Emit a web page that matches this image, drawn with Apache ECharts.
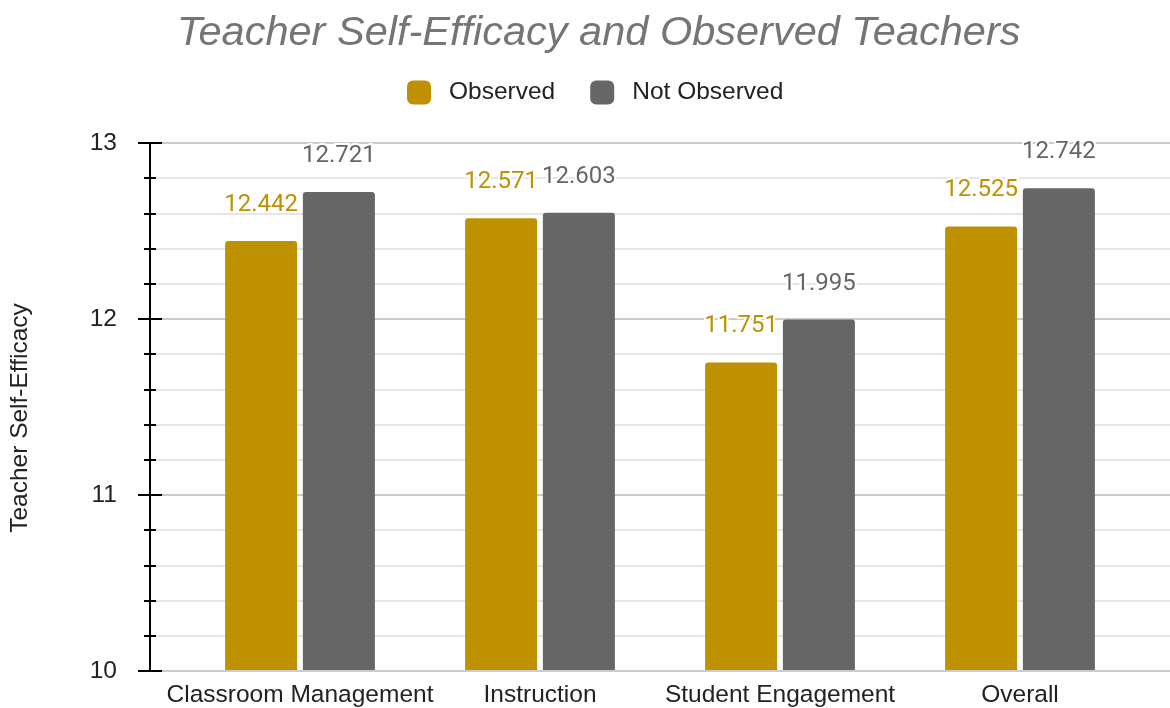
<!DOCTYPE html>
<html>
<head>
<meta charset="utf-8">
<script src="https://cdn.jsdelivr.net/npm/echarts@6/dist/echarts.min.js"></script>
<style>
html,body{margin:0;padding:0;background:#fff;}
#main{width:1170px;height:708px;}
</style>
</head>
<body>
<div id="main"></div>
<script>
// 类别与数值
var categories = ['Classroom Management', 'Instruction', 'Student Engagement', 'Overall'];
var observed = [12.442, 12.571, 11.751, 12.525];
var notObserved = [12.721, 12.603, 11.995, 12.742];
var seriesNames = ['Observed', 'Not Observed'];
var yMin = 10, yMax = 13, yStep = 1;

var FONT = '"Liberation Sans", Arial, sans-serif';
var LABEL_FONT = 'Roboto';
var GOLD = '#bf9000', GREY = '#666666';

function drawChart() {
    var chart = echarts.init(document.getElementById('main'));

    // y轴公共样式（两根轴叠在一起，画两侧刻度）
    var baseY = {
        type: 'value', gridIndex: 1, position: 'left', min: yMin, max: yMax, interval: yStep,
        axisLine: {show: true, lineStyle: {color: '#000', width: 2}},
        minorTick: {show: true, splitNumber: 5, length: 6, lineStyle: {color: '#000', width: 2}}
    };

    var labelStyle = function (color) {
        return {
            show: true, position: 'top', distance: 24,
            fontFamily: LABEL_FONT, fontSize: 24, color: color,
            textBorderColor: '#fff', textBorderWidth: 4,
            formatter: function (p) { return p.value.toFixed(3); }
        };
    };

    var option = {
        animation: false,
        title: {
            text: 'Teacher Self-Efficacy and Observed Teachers',
            left: 177, top: 13, padding: 0,
            textStyle: {fontFamily: FONT, fontSize: 41.5, fontStyle: 'italic', fontWeight: 'normal', color: '#757575'}
        },
        legend: {
            data: seriesNames, left: 407, top: 80, padding: 0,
            itemWidth: 24, itemHeight: 24, itemGap: 35, icon: 'roundRect',
            textStyle: {fontFamily: FONT, fontSize: 24.5, color: '#222', padding: [0, 0, 0, 13]}
        },
        grid: [
            {left: 180, right: 30, top: 143, bottom: 37},
            {left: 139, right: 0, top: 143, bottom: 37}
        ],
        xAxis: [
            {type: 'category', gridIndex: 0, data: categories,
                axisLine: {show: false}, axisTick: {show: false},
                axisLabel: {interval: 0, fontFamily: FONT, fontSize: 24.5, color: '#222', margin: 13}},
            {type: 'value', gridIndex: 1, show: false}
        ],
        yAxis: [
            {type: 'value', gridIndex: 0, min: yMin, max: yMax, show: false},
            echarts.util.merge({
                name: 'Teacher Self-Efficacy', nameLocation: 'middle', nameGap: 117,
                nameTextStyle: {fontFamily: FONT, fontSize: 24.5, color: '#222', padding: [0, 22, 0, 0]},
                axisTick: {show: true, length: 12, lineStyle: {color: '#000', width: 2}},
                axisLabel: {fontFamily: FONT, fontSize: 24.5, color: '#222', margin: 33},
                splitLine: {show: true, lineStyle: {color: '#cccccc', width: 2}},
                minorSplitLine: {show: true, lineStyle: {color: '#e6e6e6', width: 2}}
            }, baseY),
            echarts.util.merge({
                axisTick: {show: true, inside: true, length: 12, lineStyle: {color: '#000', width: 2}},
                axisLabel: {show: false},
                splitLine: {show: false}
            }, baseY)
        ],
        series: [
            {name: seriesNames[0], type: 'bar', data: observed, xAxisIndex: 0, yAxisIndex: 0,
                barWidth: 72, barGap: '8%',
                itemStyle: {color: GOLD, borderRadius: [3, 3, 0, 0]}, label: labelStyle(GOLD)},
            {name: seriesNames[1], type: 'bar', data: notObserved, xAxisIndex: 0, yAxisIndex: 0,
                barWidth: 72, barGap: '8%',
                itemStyle: {color: GREY, borderRadius: [3, 3, 0, 0]}, label: labelStyle(GREY)}
        ]
    };
    chart.setOption(option);
}

drawChart();
</script>
</body>
</html>
